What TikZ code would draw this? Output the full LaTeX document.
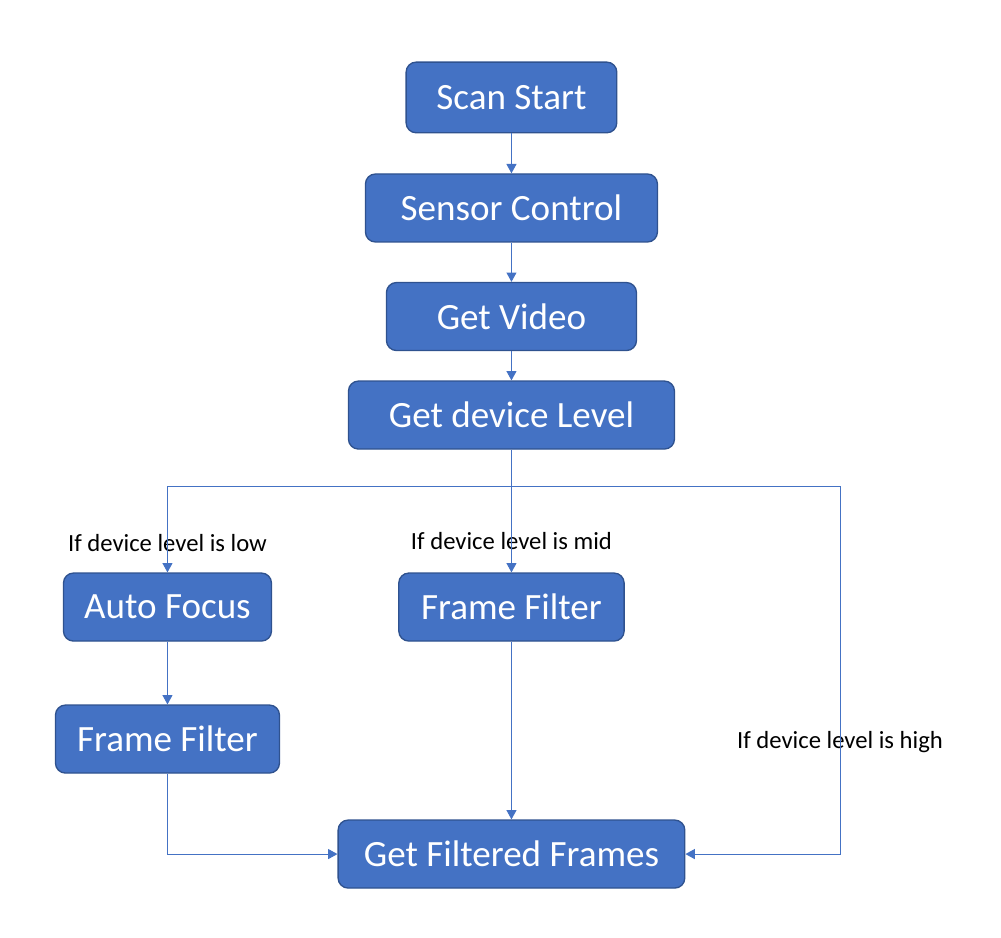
\documentclass[tikz,border=0pt]{standalone}
\usepackage{fontspec}
\setmainfont{Carlito}
\usetikzlibrary{positioning,arrows.meta}
\definecolor{boxfill}{HTML}{4472C4}
\definecolor{boxline}{HTML}{2F528F}

\begin{document}
\begin{tikzpicture}[on grid,
    stage/.style={draw=boxline,line width=1pt,fill=boxfill,rounded corners=7.5pt,
      text=white,font=\fontsize{27.8}{32}\selectfont,minimum height=51pt,inner sep=0pt},
    cond/.style={font=\fontsize{18.5}{22}\selectfont,inner sep=0pt},
    flow/.style={draw=boxfill,line width=0.75pt,-{Triangle[length=7pt,width=7.5pt]}}]
   \useasboundingbox (0,0) rectangle (750.75pt,-703.5pt);
   \node[stage,minimum width=158pt,minimum height=53pt] (scan) at (383.6pt,-73.1pt) {Scan Start};
   \node[stage,minimum width=219pt] (sensor) [below=82.9pt of scan] {Sensor Control};
   \node[stage,minimum width=187.5pt] (video) [below=81.4pt of sensor] {Get Video};
   \node[stage,minimum width=244.5pt] (level) [below=73.9pt of video] {Get device Level};
   \node[stage,minimum width=169pt] (ffmid) [below=144pt of level] {Frame Filter};
   \node[stage,minimum width=156pt] (focus) [left=258pt of ffmid] {Auto Focus};
   \node[stage,minimum width=168pt] (ffleft) [below=99pt of focus] {Frame Filter};
   \node[stage,minimum width=260pt] (final) [below=185.25pt of ffmid] {Get Filtered Frames};
   \coordinate (split) at ([yshift=-53.25pt]level.center);
   \coordinate (hi) at (630pt,0 |- split);
   \node[cond] (low) [above=15pt of focus.north] {If device level is low};
   \node[cond] (mid) [above=16.5pt of ffmid.north] {If device level is mid};
   \node[cond] (high) at ([yshift=-2pt]hi |- ffleft) {If device level is high};
   \path[flow] (scan) -- (sensor);
   \path[flow] (sensor) -- (video);
   \path[flow] (video) -- (level);
   \path[flow] (level) -- (ffmid);
   \path[flow] (split) -| (focus);
   \path[flow] (focus) -- (ffleft);
   \path[flow] (ffmid) -- (final);
   \path[flow] (ffleft) |- (final);
   \path[flow] (split) -- (hi) |- (final);
\end{tikzpicture}
\end{document}
